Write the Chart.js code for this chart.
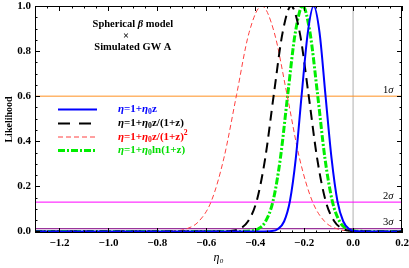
<!DOCTYPE html>
<html><head><meta charset="utf-8">
<script src="https://cdn.jsdelivr.net/npm/chart.js@4.4.1/dist/chart.umd.min.js"></script>
<style>html,body{margin:0;padding:0;background:#fff;overflow:hidden}#wrap{width:409px;height:268px;position:relative}</style>
</head><body><div id="wrap"><canvas id="c"></canvas></div>
<script>
// ---- data ----
const xTicks = [-1.2, -1.0, -0.8, -0.6, -0.4, -0.2, 0.0, 0.2];
const yTicks = [0.0, 0.2, 0.4, 0.6, 0.8, 1.0];

const xBlue  = [-1.3, -0.379, -0.331, -0.307, -0.282, -0.258, -0.234, -0.210, -0.185, -0.161, -0.137, -0.113, -0.088, -0.064, -0.040, -0.016, 0.009, 0.057, 0.2];
const yBlue  = [0, 0, 0.002, 0.011, 0.044, 0.135, 0.325, 0.607, 0.882, 1, 0.882, 0.607, 0.325, 0.135, 0.044, 0.011, 0.002, 0, 0];

const xBlack = [-1.3, -0.571, -0.500, -0.465, -0.430, -0.394, -0.359, -0.324, -0.288, -0.253, -0.218, -0.182, -0.147, -0.112, -0.076, -0.041, -0.006, 0.065, 0.2];
const yBlack = [0, 0, 0.002, 0.011, 0.044, 0.135, 0.325, 0.607, 0.882, 1, 0.882, 0.607, 0.325, 0.135, 0.044, 0.011, 0.002, 0, 0];

const xRed   = [-1.3, -0.837, -0.734, -0.682, -0.631, -0.579, -0.528, -0.476, -0.425, -0.373, -0.322, -0.270, -0.219, -0.167, -0.116, -0.064, -0.013, 0.091, 0.2];
const yRed   = [0, 0, 0.002, 0.011, 0.044, 0.135, 0.325, 0.607, 0.882, 1, 0.882, 0.607, 0.325, 0.135, 0.044, 0.011, 0.002, 0, 0];

const xGreen = [-1.3, -0.479, -0.418, -0.388, -0.358, -0.327, -0.297, -0.267, -0.236, -0.206, -0.176, -0.145, -0.115, -0.085, -0.055, -0.024, 0.006, 0.067, 0.2];
const yGreen = [0, 0, 0.002, 0.011, 0.044, 0.135, 0.325, 0.607, 0.882, 1, 0.882, 0.607, 0.325, 0.135, 0.044, 0.011, 0.002, 0, 0];

const sigmaLevels = [0.6, 0.13, 0.012];
const sigmaLabels = ['1', '2', '3'];
const xRange = [-1.3, 0.2];
const yRange = [-0.007, 1.0];
const titleLines = ['Spherical β model', '×', 'Simulated GW A'];

// ---- build ----
const pts = (xs, ys) => xs.map((x, i) => ({x, y: ys[i]}));
const SERIF = '"Liberation Serif", "DejaVu Serif", "Times New Roman", serif';

const curveStyles = [
  {c: '#0000ff', w: 2, d: []},
  {c: '#000000', w: 2, d: [10, 6]},
  {c: '#ff4040', w: 1, d: [5, 3]},
  {c: '#00ee00', w: 3, d: [7, 2, 2, 2]}
];
const curveData = [pts(xBlue, yBlue), pts(xBlack, yBlack), pts(xRed, yRed), pts(xGreen, yGreen)];
const sigmaColors = ['#ff9020', '#ff00ff', '#800080'];

const datasets = [];
curveData.forEach((d, i) => datasets.push({
  data: d, borderColor: curveStyles[i].c, borderWidth: curveStyles[i].w, borderDash: curveStyles[i].d,
  pointRadius: 0, fill: false, cubicInterpolationMode: 'monotone', order: 0
}));
sigmaLevels.forEach((v, i) => datasets.push({
  data: [{x: xRange[0], y: v}, {x: xRange[1], y: v}], borderColor: sigmaColors[i], borderWidth: 1,
  pointRadius: 0, fill: false, order: 1
}));
datasets.push({data: [{x: 0, y: yRange[0]}, {x: 0, y: yRange[1]}], borderColor: '#b0b0b0', borderWidth: 1, pointRadius: 0, order: 2});

const legendSegs = [
  [{t: 'η', i: 1}, {t: '=1+'}, {t: 'η', i: 1}, {t: '0', sub: 1}, {t: 'z'}],
  [{t: 'η', i: 1}, {t: '=1+'}, {t: 'η', i: 1}, {t: '0', sub: 1}, {t: 'z/(1+z)'}],
  [{t: 'η', i: 1}, {t: '=1+'}, {t: 'η', i: 1}, {t: '0', sub: 1}, {t: 'z/(1+z)'}, {t: '2', sup: 1}],
  [{t: 'η', i: 1}, {t: '=1+'}, {t: 'η', i: 1}, {t: '0', sub: 1}, {t: 'ln(1+z)'}]
];
const legendTextColors = ['#0000ff', '#000000', '#ff0000', '#00dd00'];

function drawRich(ctx, x, y, segs, color, size, bold) {
  let cx = x;
  ctx.textBaseline = 'middle'; ctx.textAlign = 'left'; ctx.fillStyle = color;
  for (const s of segs) {
    const fs = (s.sub || s.sup) ? size * 0.7 : size;
    ctx.font = (s.i ? 'italic ' : '') + (bold ? 'bold ' : '') + fs + 'px ' + SERIF;
    const dy = s.sub ? size * 0.25 : (s.sup ? -size * 0.35 : 0);
    ctx.fillText(s.t, cx, y + dy);
    cx += ctx.measureText(s.t).width;
  }
}

const decor = {
  id: 'decor',
  afterDatasetsDraw(chart) {
    const ctx = chart.ctx, a = chart.chartArea, xs = chart.scales.x, ys = chart.scales.y;
    ctx.save();
    // frame
    ctx.strokeStyle = '#000'; ctx.lineWidth = 1; ctx.setLineDash([]);
    ctx.strokeRect(a.left + 0.5, a.top + 0.5, a.right - a.left - 1, a.bottom - a.top - 1);
    // ticks
    ctx.beginPath();
    for (let k = -26; k <= 4; k++) {
      const v = k * 0.05; if (v < xRange[0] - 1e-9 || v > xRange[1] + 1e-9) continue;
      const major = Math.abs(Math.round(v / 0.2) * 0.2 - v) < 1e-6;
      const L = major ? 5 : 2.5;
      const px = Math.round(xs.getPixelForValue(v)) + 0.5;
      ctx.moveTo(px, a.bottom); ctx.lineTo(px, a.bottom - L);
      ctx.moveTo(px, a.top); ctx.lineTo(px, a.top + L);
    }
    for (let k = 0; k <= 20; k++) {
      const v = k * 0.05;
      const major = k % 4 === 0;
      const L = major ? 5 : 2.5;
      const py = Math.round(ys.getPixelForValue(v)) + 0.5;
      ctx.moveTo(a.left, py); ctx.lineTo(a.left + L, py);
      ctx.moveTo(a.right, py); ctx.lineTo(a.right - L, py);
    }
    ctx.stroke();
    // title text
    ctx.fillStyle = '#000'; ctx.textBaseline = 'middle';
    const tx = xs.getPixelForValue(-0.9);
    const F = 'bold 10.5px ' + SERIF, FI = 'italic bold 10.5px ' + SERIF;
    ctx.font = F;
    const w1 = ctx.measureText('Spherical ').width, w2b = ctx.measureText(' model').width;
    ctx.font = FI;
    const wb = ctx.measureText('β').width;
    const sx = tx - (w1 + wb + w2b) / 2;
    ctx.textAlign = 'left';
    ctx.font = F; ctx.fillText('Spherical ', sx, 24);
    ctx.font = FI; ctx.fillText('β', sx + w1, 24);
    ctx.font = F; ctx.fillText(' model', sx + w1 + wb, 24);
    ctx.textAlign = 'center';
    ctx.fillText(titleLines[1], tx - 7, 36);
    ctx.fillText(titleLines[2], tx, 47);
    // legend
    const ly = [109.5, 123.5, 137, 150.5];
    for (let i = 0; i < 4; i++) {
      ctx.strokeStyle = curveStyles[i].c; ctx.lineWidth = curveStyles[i].w;
      ctx.setLineDash(i === 1 ? [12, 9] : curveStyles[i].d);
      ctx.beginPath(); ctx.moveTo(58, ly[i]); ctx.lineTo(97, ly[i]); ctx.stroke();
      ctx.setLineDash([]);
      drawRich(ctx, 118, ly[i], legendSegs[i], legendTextColors[i], 11, true);
    }
    // sigma labels
    const sy = [90, 196, 222];
    for (let i = 0; i < 3; i++) {
      drawRich(ctx, 383, sy[i], [{t: sigmaLabels[i]}, {t: 'σ', i: 1}], '#000', 10.5, false);
    }
    ctx.restore();
  }
};

const fmtX = v => (v < -1e-9 ? '\u2212' : '') + Math.abs(v).toFixed(1);

new Chart(document.getElementById('c'), {
  type: 'line',
  data: {datasets},
  options: {
    responsive: true, maintainAspectRatio: false, animation: false,
    devicePixelRatio: 1,
    layout: {padding: {top: 6, right: 7, left: 0, bottom: 0}},
    plugins: {legend: {display: false}, tooltip: {enabled: false}},
    scales: {
      x: {
        type: 'linear', min: xRange[0], max: xRange[1],
        afterBuildTicks: s => { s.ticks = xTicks.map(v => ({value: v})); },
        afterFit: s => { s.height = 35; s.paddingLeft = 0; s.paddingRight = 0; },
        grid: {display: false, drawTicks: false}, border: {display: false},
        ticks: {callback: v => fmtX(v), autoSkip: false, maxRotation: 0, padding: 4, color: '#000',
                font: {family: SERIF, size: 11, weight: 'bold'}},
        title: {display: true, text: 'η₀', color: '#000', font: {family: SERIF, size: 12, style: 'italic'}, padding: {top: 0, bottom: 3}}
      },
      y: {
        type: 'linear', min: yRange[0], max: yRange[1],
        afterBuildTicks: s => { s.ticks = yTicks.map(v => ({value: v})); },
        afterFit: s => { s.width = 35; s.paddingTop = 0; s.paddingBottom = 0; },
        grid: {display: false, drawTicks: false}, border: {display: false},
        ticks: {callback: v => Number(v).toFixed(1), autoSkip: false, padding: 4, color: '#000',
                font: {family: SERIF, size: 11, weight: 'bold'}},
        title: {display: true, text: 'Likelihood', color: '#000', font: {family: SERIF, size: 10, weight: 'bold'}, padding: {top: 3, bottom: 0}}
      }
    }
  },
  plugins: [decor]
});
</script></body></html>
